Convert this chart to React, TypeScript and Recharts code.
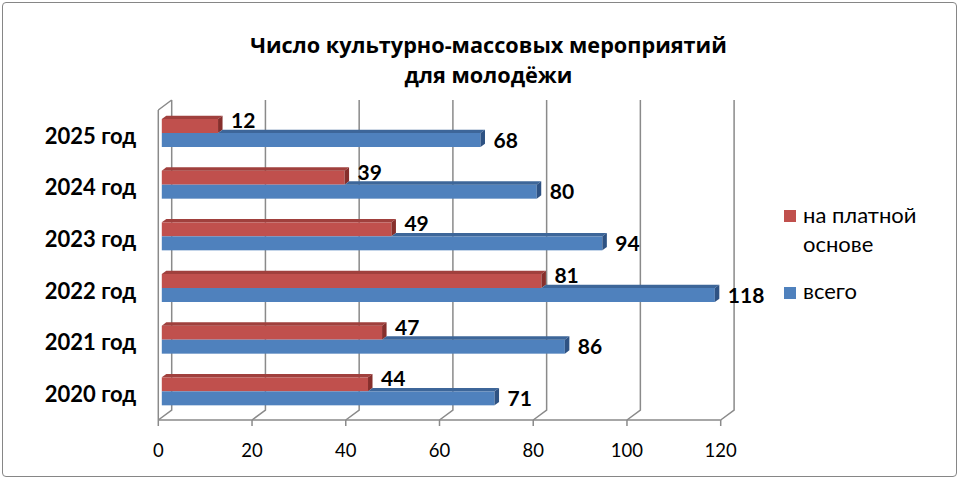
import React from 'react'
import { BarChart, Bar, XAxis, YAxis, CartesianGrid, LabelList } from 'recharts'

const years = ['2025 год', '2024 год', '2023 год', '2022 год', '2021 год', '2020 год']
const paid = [12, 39, 49, 81, 47, 44]
const total = [68, 80, 94, 118, 86, 71]
const xTicks = [0, 20, 40, 60, 80, 100, 120]

const rows = years.map((year, i) => ({ year, paid: paid[i], total: total[i] }))

// 3D offsets: bar front face shift, bar depth, back wall depth
const SX = 3.5
const SY = 3
const BD_X = 4.5
const BD_Y = 3.3
const WD_X = 13.4
const WD_Y = 10
const GRID = '#8a8a8a'
const FONT = 'Lato, "Open Sans", sans-serif'
const TITLE_FONT = '"Open Sans", Lato, sans-serif'

const RED = { front: '#C0504D', top: '#A0403D', side: '#862F2C' }
const BLUE = { front: '#4F81BD', top: '#3D6699', side: '#2E5283' }

function face(points: number[][], fill: string) {
  return <polygon points={points.map(p => p.join(',')).join(' ')} fill={fill} />
}

function PaidBar(props: any) {
  const { x, y, width, height } = props
  const l = x + SX
  const t = y - SY
  const r = l + width
  const b = t + height
  return (
    <g>
      <rect x={l} y={t} width={width} height={height} fill={RED.front} />
      {face([[l, t], [r, t], [r + BD_X, t - BD_Y], [l + BD_X, t - BD_Y]], RED.top)}
      {face([[r, t], [r + BD_X, t - BD_Y], [r + BD_X, b - BD_Y], [r, b]], RED.side)}
    </g>
  )
}

function TotalBar(props: any) {
  const { x, y, width, height, payload } = props
  const l = x + SX
  const t = y - SY
  const r = l + width
  const b = t + height
  const redEnd = l + (payload.total ? width * (payload.paid / payload.total) : 0)
  return (
    <g>
      <rect x={l} y={t} width={width} height={height} fill={BLUE.front} />
      {redEnd < r && face([[redEnd, t], [r, t], [r + BD_X, t - BD_Y], [redEnd + BD_X, t - BD_Y]], BLUE.top)}
      {face([[r, t], [r + BD_X, t - BD_Y], [r + BD_X, b - BD_Y], [r, b]], BLUE.side)}
    </g>
  )
}

function valueLabel(shiftY: number) {
  return (p: any) => (
    <text
      x={p.x + p.width + SX + 13}
      y={p.y - SY + p.height / 2 + shiftY}
      fontFamily={FONT}
      fontWeight={700}
      fontSize={21}
      fill="#000"
    >
      {p.value}
    </text>
  )
}

function gridLine(p: any) {
  const { x1, y1, y2, index } = p
  let d = `M${x1},${y2} L${x1 + WD_X},${y2 - WD_Y} L${x1 + WD_X},${y1 - WD_Y}`
  if (index === 0) d += ` M${x1},${y1} L${x1 + WD_X},${y1 - WD_Y}`
  return <path key={p.key ?? index} d={d} stroke={GRID} strokeWidth={1.5} fill="none" />
}

export default function App() {
  return (
    <div style={{ position: 'absolute', left: 0, top: 0, width: 960, height: 480, background: '#fff', fontFamily: FONT }}>
      <div
        style={{
          position: 'absolute', left: 2, top: 2, width: 955, height: 475,
          border: '1px solid #868686', borderRadius: 4, boxSizing: 'border-box',
        }}
      />
      <BarChart
        width={960}
        height={480}
        data={rows}
        layout="vertical"
        margin={{ top: 110, right: 239.3, bottom: 30, left: 0 }}
        barGap={0}
        barSize={14}
        style={{ position: 'absolute', left: 0, top: 0 }}
      >
        <CartesianGrid horizontal={false} vertical={gridLine} />
        <XAxis
          type="number"
          domain={[0, 120]}
          ticks={xTicks}
          interval={0}
          height={30}
          axisLine={{ stroke: GRID, strokeWidth: 1.5 }}
          tickLine={{ stroke: GRID, strokeWidth: 1.5 }}
          tickSize={6}
          tickMargin={18}
          tick={{ fontFamily: FONT, fontSize: 18.5, fill: '#000' }}
        />
        <YAxis
          type="category"
          dataKey="year"
          width={158.3}
          axisLine={{ stroke: GRID, strokeWidth: 1.5 }}
          tickLine={false}
          tickSize={0}
          tickMargin={22}
          tick={{ fontFamily: FONT, fontWeight: 700, fontSize: 22, fill: '#000' }}
        />
        <Bar dataKey="paid" name="на платной основе" fill={RED.front} shape={PaidBar} isAnimationActive={false}>
          <LabelList dataKey="paid" content={valueLabel(2)} />
        </Bar>
        <Bar dataKey="total" name="всего" fill={BLUE.front} shape={TotalBar} isAnimationActive={false}>
          <LabelList dataKey="total" content={valueLabel(7.5)} />
        </Bar>
      </BarChart>
      <svg width={960} height={480} style={{ position: 'absolute', left: 0, top: 0, pointerEvents: 'none' }}>
        <g fontFamily={TITLE_FONT} fontWeight={700} fontSize={21.7} fill="#000" textAnchor="middle">
          <text x={488.5} y={53}>Число культурно-массовых мероприятий</text>
          <text x={488.5} y={83}>для молодёжи</text>
        </g>
        <g fontFamily={FONT} fontSize={22} fill="#000">
          <rect x={784} y={210} width={12} height={12} fill={RED.front} />
          <text x={803} y={223}>на платной</text>
          <text x={803} y={252}>основе</text>
          <rect x={784} y={287} width={12} height={12} fill={BLUE.front} />
          <text x={803} y={299}>всего</text>
        </g>
      </svg>
    </div>
  )
}
